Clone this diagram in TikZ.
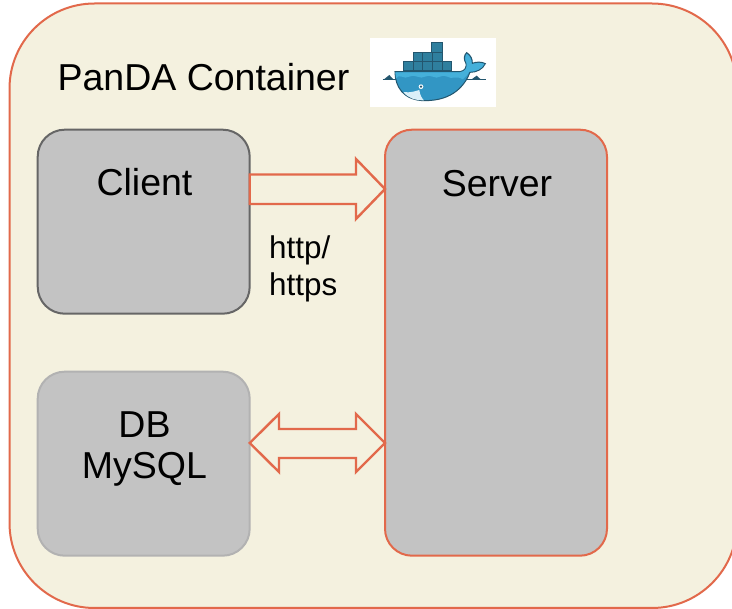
\documentclass[tikz,border=0pt]{standalone}
\usepackage{fontspec}
\setmainfont{Liberation Sans}
\definecolor{bgc}{HTML}{F4F1DF}
\definecolor{accent}{HTML}{E2694B}
\definecolor{boxgray}{HTML}{C3C3C3}
\definecolor{whaleA}{HTML}{45B0DA}
\definecolor{whaleB}{HTML}{3296C4}
\definecolor{whaleD}{HTML}{23566E}
\definecolor{cargo}{HTML}{2F7F9E}
\tikzset{
  panel/.style={draw=#1,fill=boxgray,line width=2pt,rounded corners=27pt,inner sep=0pt,outer sep=0pt},
  boxtext/.style={font=\fontsize{37.5pt}{42pt}\selectfont,align=center,inner sep=0pt},
  blockarrow/.style={draw=accent,fill=bgc,line width=2.4pt,miter limit=10},
  cell/.style={draw=whaleD,fill=cargo,line width=0.8pt}
}
\begin{document}
\begin{tikzpicture}[x=1pt,y=-1pt]
\useasboundingbox (0,0) rectangle (732,609);
\path[fill=white] (0,0) rectangle (732,609);
\draw[draw=accent,fill=bgc,line width=2pt,rounded corners=85pt] (9.5,3.5) rectangle (737,608);
\clip (0,0) rectangle (732,609);
\node[boxtext,anchor=center] (title) at (203.5,77) {PanDA Container};
% Docker logo
\path[fill=white] (370,38) rectangle (496,107);
\begin{scope}[shift={(360,30)},x=0.3333pt,y=-0.3333pt]
  \foreach \c in {130,159,188,217,246}{\draw[cell] (\c,95) rectangle +(29,27);}
  \foreach \c in {159,188,217}{\draw[cell] (\c,68) rectangle +(29,27);}
  \draw[cell] (214,38) rectangle (246,68);
  \draw[whaleD,line width=0.7pt] (68,148) -- (378,148);
  \path[fill=whaleD] (72,148) -- (88,135) -- (100,148) -- cycle (335,148) -- (350,137) -- (362,148) -- cycle;
  \draw[whaleD,fill=whaleB,line width=1pt] (105,125) -- (300,125)
    .. controls (315,123) and (320,112) .. (318,100)
    .. controls (310,88) and (312,75) .. (320,68)
    .. controls (332,75) and (338,88) .. (337,100)
    .. controls (350,95) and (365,95) .. (376,101)
    .. controls (368,118) and (350,127) .. (330,127)
    .. controls (315,165) and (280,212) .. (195,212)
    .. controls (130,212) and (105,170) .. (105,125) -- cycle;
  \path[fill=whaleA] (106,127) -- (300,127)
    .. controls (318,124) and (322,112) .. (320,100)
    .. controls (314,88) and (315,78) .. (320,72)
    .. controls (330,78) and (335,90) .. (335,103)
    .. controls (350,98) and (362,98) .. (373,102)
    .. controls (365,117) and (348,125) .. (328,125)
    .. controls (322,135) and (316,142) .. (308,148)
    .. controls (290,135) and (275,150) .. (262,140)
    .. controls (245,130) and (235,150) .. (218,140)
    .. controls (200,130) and (190,150) .. (172,140)
    .. controls (155,130) and (140,150) .. (125,140)
    .. controls (118,135) and (112,140) .. (108,146) -- cycle;
  \path[fill=white!80!whaleA] (130,186) .. controls (150,190) and (170,182) .. (178,180)
    .. controls (180,195) and (185,205) .. (192,211)
    .. controls (165,211) and (145,205) .. (130,186) -- cycle;
  \path[fill=white] (183,170) circle (7);
  \path[fill=whaleD] (183,170) circle (4);
\end{scope}
% Boxes
\node[panel=black!60,minimum width=212pt,minimum height=184pt,anchor=north west] (client) at (37.7,129.7) {};
\node[panel=black!30,minimum width=212pt,minimum height=184pt,anchor=north west] (db) at (37.7,371.7) {};
\node[panel=accent,minimum width=222pt,minimum height=426pt,anchor=north west] (server) at (385,129.7) {};
\node[boxtext] (clientlabel) at (144.5,182) {Client};
\node[boxtext,text width=200pt] (dblabel) at (144.5,449) {DB\\[-1pt]MySQL};
\node[boxtext] (serverlabel) at (497,184) {Server};
\node[font=\fontsize{31.4pt}{37.5pt}\selectfont,align=left,inner sep=0pt,anchor=west] (proto) at (269,269) {http/\\https};
% Block arrows
\draw[blockarrow] (client.east |- 0,174.5) -- (356,174.5) -- (356,159) -- (server.west |- 0,189) -- (356,219) -- (356,204) -- (client.east |- 0,204) -- cycle;
\draw[blockarrow] (db.east |- 0,443) -- (279,414) -- (279,429) -- (356,429) -- (356,414) -- (server.west |- 0,443) -- (356,472) -- (356,458) -- (279,458) -- (279,472) -- cycle;
\end{tikzpicture}
\end{document}
